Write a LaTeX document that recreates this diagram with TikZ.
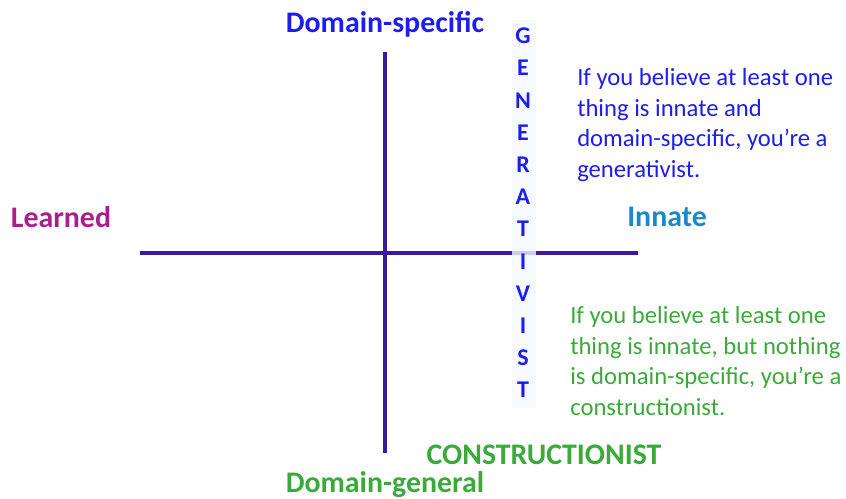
\documentclass[tikz,border=0pt]{standalone}
\usepackage{fontspec}
\setmainfont{Carlito}
\usepackage{xcolor}
\definecolor{axis}{RGB}{58,25,160}
\definecolor{genblue}{RGB}{30,30,235}
\definecolor{congreen}{RGB}{58,170,58}
\definecolor{innblue}{RGB}{30,135,200}
\definecolor{learnpink}{RGB}{170,30,140}
\definecolor{colbg}{RGB}{244,249,255}

\begin{document}
\begin{tikzpicture}[x=0.75pt,y=-0.75pt,
  axisline/.style={draw=axis,line width=2.3pt},
  poslabel/.style={font=\fontsize{22.4}{26}\selectfont\bfseries,inner sep=0pt},
  letter/.style={font=\fontsize{18}{20}\selectfont\bfseries,text=genblue,inner sep=0pt},
  note/.style={font=\fontsize{18.5}{23}\selectfont,align=left,inner sep=0pt,anchor=north west}]
  \useasboundingbox (0,0) rectangle (846,499);
  % axes
  \coordinate (left) at (140,253);
  \coordinate (right) at (638,253);
  \coordinate (top) at (385,52);
  \coordinate (bottom) at (385,453);
  \draw[axisline] (left) -- (right);
  \draw[axisline] (top) -- (bottom);
  % vertical word
  \fill[colbg,opacity=0.8] (512,20) rectangle (536,408);
  \foreach \l [count=\i] in {G,E,N,E,R,A,T,I,V,I,S,T}
    \node[letter] (g\i) at (523,{36+(\i-1)*32.2}) {\l};
  % axis labels
  \node[poslabel,text=genblue] (spec) at (385,24) {Domain-specific};
  \node[poslabel,text=congreen] (gen) at (385,485) {Domain-general};
  \node[poslabel,text=learnpink] (learn) at (61,217) {Learned};
  \node[poslabel,text=innblue] (inn) at (667,217) {Innate};
  \node[poslabel,text=congreen] (cons) at (544,455) {CONSTRUCTIONIST};
  % notes
  \node[note,text=genblue] (gnote) at (577,68) {If you believe at least one\\thing is innate and\\domain-specific, you’re a\\generativist.};
  \node[note,text=congreen] (cnote) at (570,306) {If you believe at least one\\thing is innate, but nothing\\is domain-specific, you’re a\\constructionist.};
\end{tikzpicture}
\end{document}
